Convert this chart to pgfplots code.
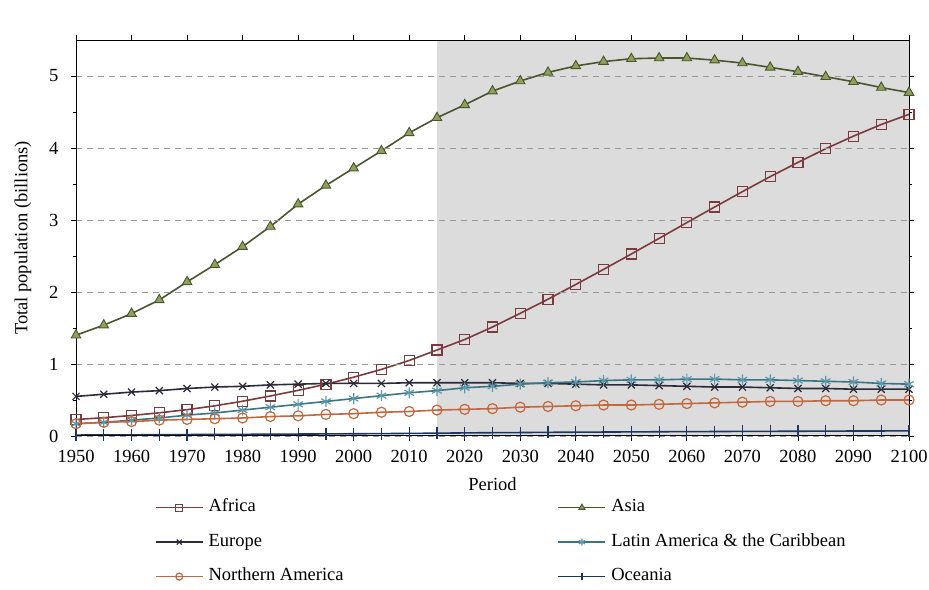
\documentclass[border=0pt]{standalone}
\usepackage{fontspec}
\setmainfont{Liberation Serif}
\usepackage{pgfplots}
\pgfplotsset{compat=1.18}
\definecolor{afr}{HTML}{7B3B3E}
\definecolor{asiaL}{HTML}{4A5530}
\definecolor{asiaF}{HTML}{8EA05A}
\definecolor{eur}{HTML}{2A2A38}
\definecolor{lat}{HTML}{3A7585}
\definecolor{latM}{HTML}{5E97AA}
\definecolor{nam}{HTML}{C2683C}
\definecolor{oce}{HTML}{1F3561}
\definecolor{shade}{HTML}{DCDCDC}
\begin{document}
\begin{tikzpicture}[font=\fontsize{18.5}{22}\selectfont]
\begin{axis}[
  at={(76pt,153pt)}, anchor=south west,
  scale only axis, width=833pt, height=396pt,
  xmin=1950, xmax=2100, ymin=0, ymax=5.5,
  xtick distance=10, ytick={0,1,2,3,4,5}, minor y tick num=1,
  tick align=outside, major tick length=5pt, minor tick length=3pt,
  tick style={black, line width=0.8pt},
  /pgf/number format/1000 sep={},
  /pgf/number format/assume math mode=true,
  xticklabel style={yshift=-6pt},
  yticklabel style={xshift=-9pt},
  ymajorgrids, grid style={gray!80, line width=0.9pt, dash pattern=on 6pt off 5pt},
  axis on top,
  axis line style={black, line width=1pt},
  xlabel={Period}, ylabel={Total population (billions)},
  xlabel style={yshift=-8pt},
  ylabel style={yshift=11pt},
  legend columns=2,
  legend cell align=left,
  legend image code/.code={\draw[mark repeat=2,mark phase=2,mark size=3.5pt] plot coordinates {(0pt,0pt)(23.5pt,0pt)(47pt,0pt)};},
  legend style={at={(axis description cs:0.0948,-0.16)}, anchor=north west,
    draw=none, fill=none, inner sep=0pt, outer sep=0pt, row sep=18pt,
    nodes={inner sep=0pt, text height=12.5pt, text depth=4pt},
    /tikz/every odd column/.append style={column sep=5pt},
    /tikz/column 2/.style={column sep=214pt}},
]
\addplot[fill=shade, draw=none, forget plot] coordinates {(2015,5.5)(2100,5.5)} \closedcycle;

\addplot[afr, line width=1.6pt, mark=square, mark size=5pt, mark options={solid, line width=1.2pt}] coordinates {
(1950,0.229)(1955,0.254)(1960,0.285)(1965,0.322)(1970,0.366)(1975,0.419)(1980,0.483)(1985,0.556)(1990,0.634)(1995,0.719)(2000,0.817)(2005,0.925)(2010,1.049)(2015,1.194)(2020,1.340)(2025,1.514)(2030,1.704)(2035,1.900)(2040,2.105)(2045,2.314)(2050,2.528)(2055,2.745)(2060,2.964)(2065,3.180)(2070,3.394)(2075,3.602)(2080,3.800)(2085,3.990)(2090,4.165)(2095,4.326)(2100,4.468)};
\addlegendentry{Africa}

\addplot[asiaL, line width=1.6pt, mark=triangle*, mark size=5.5pt, mark options={solid, fill=asiaF, draw=asiaL, line width=0.9pt}] coordinates {
(1950,1.40)(1955,1.54)(1960,1.70)(1965,1.89)(1970,2.14)(1975,2.38)(1980,2.63)(1985,2.91)(1990,3.22)(1995,3.48)(2000,3.72)(2005,3.96)(2010,4.21)(2015,4.42)(2020,4.60)(2025,4.79)(2030,4.93)(2035,5.05)(2040,5.14)(2045,5.20)(2050,5.24)(2055,5.25)(2060,5.25)(2065,5.22)(2070,5.18)(2075,5.12)(2080,5.06)(2085,4.99)(2090,4.92)(2095,4.84)(2100,4.77)};
\addlegendentry{Asia}

\addplot[eur, line width=1.6pt, mark=x, mark size=5pt, mark options={solid, line width=1.2pt}] coordinates {
(1950,0.55)(1955,0.58)(1960,0.61)(1965,0.63)(1970,0.66)(1975,0.68)(1980,0.69)(1985,0.71)(1990,0.72)(1995,0.73)(2000,0.73)(2005,0.73)(2010,0.74)(2015,0.74)(2020,0.74)(2025,0.74)(2030,0.73)(2035,0.73)(2040,0.72)(2045,0.71)(2050,0.71)(2055,0.70)(2060,0.69)(2065,0.68)(2070,0.68)(2075,0.67)(2080,0.66)(2085,0.66)(2090,0.65)(2095,0.65)(2100,0.65)};
\addlegendentry{Europe}

\addplot[lat, line width=1.6pt, mark=asterisk, mark size=5.5pt, mark options={solid, draw=latM, line width=1.2pt}] coordinates {
(1950,0.17)(1955,0.19)(1960,0.22)(1965,0.25)(1970,0.29)(1975,0.32)(1980,0.36)(1985,0.40)(1990,0.44)(1995,0.48)(2000,0.52)(2005,0.56)(2010,0.60)(2015,0.63)(2020,0.67)(2025,0.69)(2030,0.72)(2035,0.74)(2040,0.75)(2045,0.77)(2050,0.78)(2055,0.78)(2060,0.79)(2065,0.79)(2070,0.78)(2075,0.78)(2080,0.77)(2085,0.76)(2090,0.75)(2095,0.73)(2100,0.72)};
\addlegendentry{Latin America \& the Caribbean}

\addplot[nam, line width=1.6pt, mark=o, mark size=5pt, mark options={solid, line width=1.2pt}] coordinates {
(1950,0.17)(1955,0.19)(1960,0.20)(1965,0.22)(1970,0.23)(1975,0.24)(1980,0.25)(1985,0.27)(1990,0.28)(1995,0.30)(2000,0.31)(2005,0.33)(2010,0.34)(2015,0.36)(2020,0.37)(2025,0.38)(2030,0.40)(2035,0.41)(2040,0.42)(2045,0.43)(2050,0.43)(2055,0.44)(2060,0.45)(2065,0.46)(2070,0.47)(2075,0.48)(2080,0.48)(2085,0.49)(2090,0.49)(2095,0.50)(2100,0.50)};
\addlegendentry{Northern America}

\addplot[oce, line width=1.6pt, mark=|, mark size=6pt, mark options={solid, line width=1.2pt}] coordinates {
(1950,0.013)(1955,0.014)(1960,0.016)(1965,0.018)(1970,0.020)(1975,0.021)(1980,0.023)(1985,0.025)(1990,0.027)(1995,0.029)(2000,0.031)(2005,0.033)(2010,0.036)(2015,0.039)(2020,0.043)(2025,0.046)(2030,0.048)(2035,0.051)(2040,0.053)(2045,0.055)(2050,0.057)(2055,0.059)(2060,0.061)(2065,0.062)(2070,0.064)(2075,0.065)(2080,0.066)(2085,0.068)(2090,0.069)(2095,0.070)(2100,0.071)};
\addlegendentry{Oceania}

\node[anchor=base] at (axis cs:1982.5,5.5) [yshift=9pt] {Estimates (1950-2015)};
\node[anchor=base] at (axis cs:2057.5,5.5) [yshift=9pt] {Projections (2015-2100)};
\end{axis}
\pgfresetboundingbox
\path (0pt,0pt) rectangle (929pt,589pt);
\end{tikzpicture}
\end{document}
